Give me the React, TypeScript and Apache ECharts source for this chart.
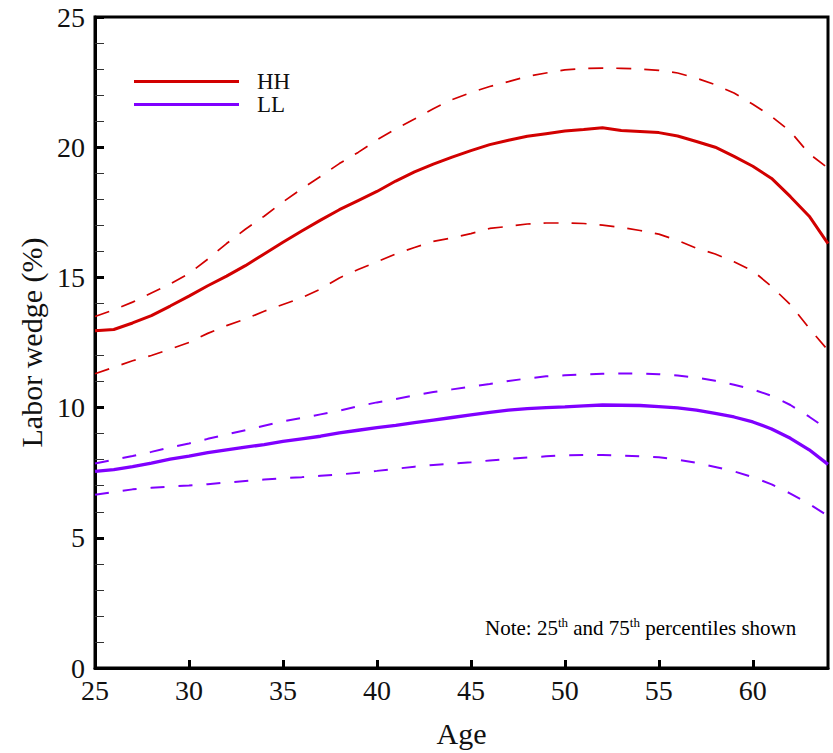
import React, { useEffect, useRef } from "react";
import * as echarts from "echarts";

const ages = [25,26,27,28,29,30,31,32,33,34,35,36,37,38,39,40,41,42,43,44,45,46,47,48,49,50,51,52,53,54,55,56,57,58,59,60,61,62,63,64];

const hhMedian = [12.95,13.0,13.25,13.53,13.9,14.28,14.68,15.05,15.45,15.9,16.35,16.78,17.2,17.6,17.95,18.3,18.7,19.05,19.35,19.62,19.87,20.1,20.27,20.42,20.52,20.62,20.68,20.75,20.64,20.6,20.56,20.43,20.22,20.0,19.65,19.27,18.8,18.1,17.35,16.3];
const hhP75 = [13.5,13.75,14.05,14.4,14.75,15.15,15.7,16.3,16.85,17.35,17.9,18.4,18.88,19.37,19.8,20.28,20.7,21.08,21.48,21.83,22.1,22.33,22.52,22.72,22.85,22.97,23.02,23.04,23.03,23.0,22.95,22.85,22.65,22.4,22.08,21.65,21.18,20.6,19.75,19.2];
const hhP25 = [11.3,11.55,11.8,12.0,12.25,12.5,12.85,13.15,13.4,13.7,13.96,14.22,14.55,14.98,15.3,15.6,15.9,16.15,16.38,16.52,16.68,16.88,16.96,17.05,17.09,17.09,17.07,17.01,16.92,16.8,16.66,16.42,16.12,15.9,15.6,15.25,14.65,13.95,13.05,12.2];

const llMedian = [7.55,7.62,7.73,7.87,8.02,8.14,8.27,8.38,8.48,8.58,8.7,8.8,8.9,9.03,9.13,9.23,9.32,9.42,9.52,9.62,9.72,9.82,9.9,9.96,10.0,10.03,10.07,10.1,10.09,10.08,10.04,9.99,9.9,9.78,9.64,9.45,9.18,8.82,8.38,7.82];
const llP75 = [7.85,8.0,8.14,8.3,8.47,8.62,8.8,8.97,9.13,9.3,9.47,9.6,9.74,9.88,10.05,10.2,10.33,10.47,10.6,10.7,10.81,10.91,11.02,11.12,11.2,11.24,11.27,11.3,11.31,11.31,11.28,11.23,11.15,11.03,10.88,10.7,10.45,10.1,9.65,9.15];
const llP25 = [6.65,6.76,6.86,6.92,6.97,7.01,7.06,7.12,7.18,7.24,7.29,7.33,7.38,7.43,7.5,7.57,7.65,7.73,7.8,7.85,7.9,7.97,8.03,8.08,8.13,8.17,8.18,8.18,8.16,8.13,8.09,8.0,7.88,7.72,7.55,7.33,7.05,6.7,6.3,5.84];

const legendNames = ["HH", "LL"];
const xTitle = "Age";
const yTitle = "Labor wedge (%)";

const RED = "#d20000";
const PURPLE = "#8000ff";
const FONT = "'Liberation Serif', 'Times New Roman', serif";

const pair = (ys: number[]) => ages.map((a, i) => [a, ys[i]]);

export default function App() {
  const ref = useRef<HTMLDivElement>(null);
  useEffect(() => {
    if (!ref.current) return;
    const chart = echarts.init(ref.current, undefined, { renderer: "svg" });
    const solid = (name: string, data: number[], color: string, width: number) => ({
      name, type: "line", data: pair(data), symbol: "none", showSymbol: false,
      lineStyle: { color, width, type: "solid" }, itemStyle: { color }, z: 3,
    });
    const dashed = (name: string, data: number[], color: string, width: number, dash: number[]) => ({
      name, type: "line", data: pair(data), symbol: "none", showSymbol: false,
      lineStyle: { color, width, type: dash }, itemStyle: { color }, z: 2,
    });
    chart.setOption({
      animation: false,
      backgroundColor: "#ffffff",
      textStyle: { fontFamily: FONT },
      grid: { left: 95, right: 5, top: 17, bottom: 84, show: true, borderColor: "#000", borderWidth: 3, backgroundColor: "transparent" },
      legend: {
        data: legendNames, left: 134, top: 70, orient: "vertical", padding: 0,
        icon: "rect", itemWidth: 105, itemHeight: 3, itemGap: 0,
        textStyle: { fontFamily: FONT, fontSize: 23, color: "#111", padding: [0, 0, 0, 13] },
      },
      xAxis: {
        type: "value", min: 25, max: 64, interval: 5,
        name: xTitle, nameLocation: "middle", nameGap: 50,
        nameTextStyle: { fontFamily: FONT, fontSize: 30, color: "#111" },
        axisLine: { show: true, lineStyle: { color: "#000", width: 3 } },
        axisTick: { show: true, inside: true, length: 8, lineStyle: { color: "#000", width: 3 } },
        axisLabel: { fontFamily: FONT, fontSize: 28, color: "#111", margin: 8, showMaxLabel: false },
        splitLine: { show: false },
      },
      yAxis: {
        type: "value", min: 0, max: 25, interval: 5,
        name: yTitle, nameLocation: "middle", nameGap: 47, nameRotate: 90,
        nameTextStyle: { fontFamily: FONT, fontSize: 30, color: "#111" },
        axisLine: { show: true, lineStyle: { color: "#000", width: 3 } },
        axisTick: { show: true, inside: true, length: 9, lineStyle: { color: "#000", width: 3 } },
        minorTick: { show: true, splitNumber: 5, length: 9, lineStyle: { color: "#333", width: 1 } },
        axisLabel: { fontFamily: FONT, fontSize: 28, color: "#111", margin: 10 },
        splitLine: { show: false },
      },
      graphic: [
        {
          type: "text", left: 485, top: 616,
          style: {
            text: "{n|Note: 25}{s|th}{n| and 75}{s|th}{n| percentiles shown}",
            fontFamily: FONT, fontSize: 21,
            rich: {
              n: { fontFamily: FONT, fontSize: 21, color: "#111", lineHeight: 23 },
              s: { fontFamily: FONT, fontSize: 13, color: "#111", lineHeight: 23, verticalAlign: "top", padding: [0, 0, 10, 0] },
            },
          },
        },
      ],
      series: [
        dashed("HH 75th", hhP75, RED, 1.7, [15, 13]),
        dashed("HH 25th", hhP25, RED, 1.7, [15, 13]),
        dashed("LL 75th", llP75, PURPLE, 2, [14, 14]),
        dashed("LL 25th", llP25, PURPLE, 2, [14, 14]),
        solid("HH", hhMedian, RED, 3),
        solid("LL", llMedian, PURPLE, 3.3),
      ],
    });
    return () => chart.dispose();
  }, []);
  return <div ref={ref} style={{ width: 833, height: 753, position: "absolute", left: 0, top: 0 }} />;
}
